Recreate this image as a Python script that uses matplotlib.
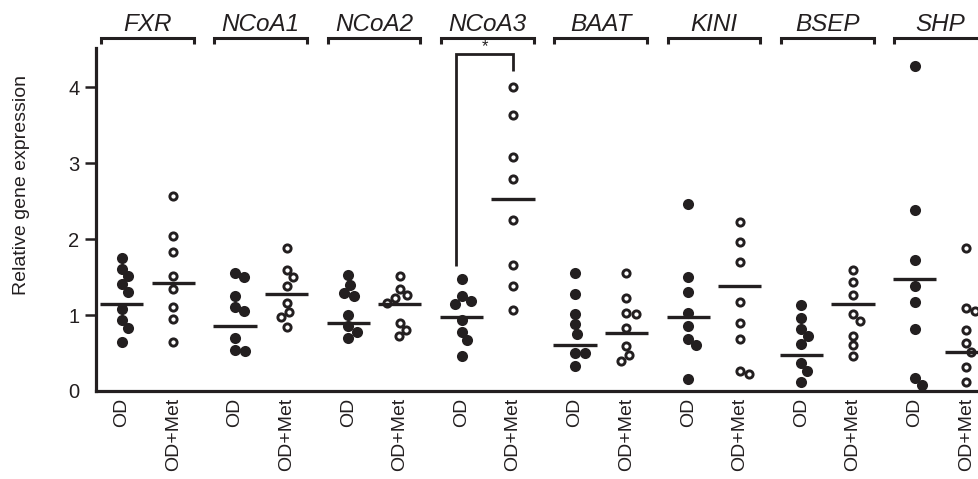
import matplotlib.pyplot as plt
import numpy as np

plt.rcParams['font.family'] = ['Liberation Sans', 'DejaVu Sans']

# Data
genes = ['FXR', 'NCoA1', 'NCoA2', 'NCoA3', 'BAAT', 'KINI', 'BSEP', 'SHP']
groups = ['OD', 'OD+Met']

od_values = [
    [1.75, 1.61, 1.51, 1.41, 1.31, 1.08, 0.93, 0.83, 0.65],
    [1.55, 1.50, 1.25, 1.11, 1.06, 0.70, 0.54, 0.53],
    [1.53, 1.40, 1.29, 1.25, 1.00, 0.85, 0.78, 0.70],
    [1.48, 1.25, 1.19, 1.15, 0.94, 0.78, 0.67, 0.46],
    [1.56, 1.28, 1.02, 0.88, 0.75, 0.50, 0.50, 0.33],
    [2.47, 1.50, 1.31, 1.03, 0.85, 0.69, 0.61, 0.16],
    [1.13, 0.96, 0.82, 0.72, 0.62, 0.37, 0.26, 0.12],
    [4.28, 2.39, 1.72, 1.38, 1.17, 0.82, 0.17, 0.08],
]
met_values = [
    [2.57, 2.04, 1.83, 1.51, 1.35, 1.11, 0.95, 0.65],
    [1.89, 1.59, 1.50, 1.39, 1.16, 1.04, 0.97, 0.84],
    [1.51, 1.34, 1.26, 1.23, 1.16, 0.89, 0.80, 0.73],
    [4.01, 3.64, 3.08, 2.79, 2.25, 1.66, 1.38, 1.07],
    [1.56, 1.22, 1.03, 1.02, 0.83, 0.59, 0.47, 0.40],
    [2.23, 1.97, 1.70, 1.17, 0.89, 0.69, 0.26, 0.23],
    [1.59, 1.44, 1.26, 1.01, 0.92, 0.73, 0.60, 0.46],
    [1.88, 1.10, 1.06, 0.81, 0.63, 0.52, 0.31, 0.12],
]
od_means = [1.14, 0.85, 0.89, 0.97, 0.60, 0.98, 0.47, 1.48]
met_means = [1.42, 1.28, 1.14, 2.53, 0.76, 1.39, 1.14, 0.51]

INK = '#231f20'

# Figure / axes geometry (pixels, origin top-left)
W, H, DPI = 979, 479, 100
AX_L, AX_R, AX_T, AX_B = 96, 1010, 48, 391
XMIN, XMAX, YMAX = -0.5, 17.25, 4.52

fig = plt.figure(figsize=(W / DPI, H / DPI), dpi=DPI)
ax = fig.add_axes([AX_L / W, (H - AX_B) / H, (AX_R - AX_L) / W, (AX_B - AX_T) / H])
ax.set_xlim(XMIN, XMAX)
ax.set_ylim(0, YMAX)

px_x = (AX_R - AX_L) / (XMAX - XMIN)
px_y = (AX_B - AX_T) / YMAX


def swarm(values, diam):
    """Beeswarm offsets (data units) so markers of pixel diameter diam don't overlap."""
    vals = np.asarray(values, dtype=float)
    offs = np.zeros(len(vals))
    placed = []
    for i in np.argsort(-vals, kind='stable'):
        y = vals[i] * px_y
        cands = [0.0]
        for px, py in placed:
            dy = abs(y - py)
            if dy < diam:
                dx = np.sqrt(diam ** 2 - dy ** 2)
                cands += [px + dx, px - dx]
        cands.sort(key=lambda c: (round(abs(c), 3), -c))
        for c in cands:
            if all((c - px) ** 2 + (y - py) ** 2 >= diam ** 2 - 1e-6 for px, py in placed):
                offs[i] = c
                placed.append((c, y))
                break
    return offs / px_x


GROUP_STEP = 2.2
tick_pos, tick_lab = [], []

for i, gene in enumerate(genes):
    x_od = i * GROUP_STEP
    x_met = x_od + 1.0
    tick_pos += [x_od, x_met]
    tick_lab += groups

    # OD: filled dots
    off = swarm(od_values[i], 10.0)
    ax.plot(x_od + off, od_values[i], 'o', ms=8.0, color=INK, mew=0, clip_on=False, zorder=2)
    # OD+Met: open circles
    off = swarm(met_values[i], 9.5)
    ax.plot(x_met + off, met_values[i], 'o', ms=5.2, mfc='white', mec=INK, mew=2.1,
            clip_on=False, zorder=2)

    # mean lines
    ax.plot([x_od - 0.42, x_od + 0.42], [od_means[i]] * 2, color=INK, lw=2.4,
            solid_capstyle='butt', zorder=3)
    ax.plot([x_met - 0.42, x_met + 0.42], [met_means[i]] * 2, color=INK, lw=2.4,
            solid_capstyle='butt', zorder=3)

    # gene bracket + name above the plot
    c = x_od + 0.5
    ax.plot([c - 0.9, c - 0.9, c + 0.9, c + 0.9], [4.575, 4.648, 4.648, 4.575],
            color=INK, lw=2.2, solid_joinstyle='miter', solid_capstyle='butt', clip_on=False)
    ax.text(c, 4.74, gene, ha='center', va='baseline', fontsize=17.5, style='italic',
            color=INK, clip_on=False)

# significance bracket for NCoA3
k = genes.index('NCoA3')
x1 = k * GROUP_STEP - 0.1
x2 = k * GROUP_STEP + 1.0
ax.plot([x1, x1, x2, x2], [1.65, 4.44, 4.44, 4.22], color=INK, lw=2.0,
        solid_joinstyle='miter', solid_capstyle='butt', clip_on=False)
ax.text((x1 + x2) / 2, 4.445, '*', ha='center', va='bottom', fontsize=12, color=INK)

# axes styling
for side in ['top', 'right']:
    ax.spines[side].set_visible(False)
for side in ['left', 'bottom']:
    ax.spines[side].set_linewidth(2.3)
    ax.spines[side].set_color(INK)

ax.set_yticks([0, 1, 2, 3, 4])
ax.tick_params(axis='y', direction='out', length=8, width=1.8, pad=4,
               labelsize=14.5, color=INK, labelcolor=INK)
ax.yaxis.get_major_ticks()[0].tick1line.set_visible(False)

ax.set_xticks(tick_pos)
ax.set_xticklabels(tick_lab, rotation=90)
ax.tick_params(axis='x', length=0, pad=5, labelsize=14, labelcolor=INK)

ax.set_ylabel('Relative gene expression', fontsize=14, color=INK)
ax.yaxis.set_label_coords(-0.072, 0.60)

fig.savefig('out.png', dpi=DPI)
